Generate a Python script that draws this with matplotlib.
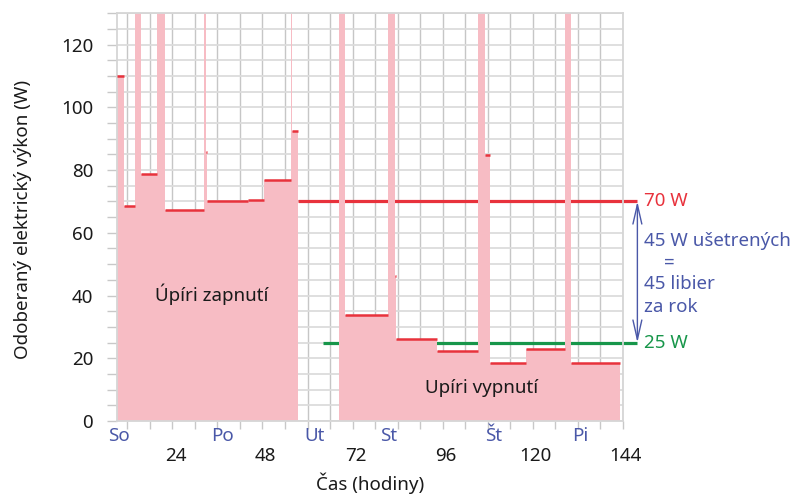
import numpy as np
import matplotlib
matplotlib.use('Agg')
import matplotlib.pyplot as plt
from matplotlib.transforms import ScaledTranslation, blended_transform_factory

plt.rcParams['font.family'] = ['Noto Sans', 'DejaVu Sans']

# step boundaries (hours) and measured power (W); 135 = spike running off the chart
edges = [9.16, 11.1, 14.0, 15.6, 19.9, 22.0, 32.5, 32.9, 33.1, 44.2, 48.3, 55.5, 55.8, 57.5,
         68.4, 69.9, 81.5, 83.3, 83.7, 94.5, 105.3, 107.3, 108.6, 118.1, 128.5, 130.3, 143.3]
power = [110, 68.6, 135, 78.8, 135, 67.3, 135, 85.8, 70.2, 70.5, 76.7, 135, 92.4, 0,
         135, 33.8, 135, 46.2, 26.3, 22.4, 135, 84.7, 18.5, 23.1, 135, 18.6]

# reference levels
level_on = 70
level_off = 25

hour_ticks = [24, 48, 72, 96, 120, 144]
day_names = ['So', 'Po', 'Ut', 'St', 'Št', 'Pi']
day_pos = [9.85, 37.3, 62.0, 81.7, 109.5, 132.8]

PINK = '#f7bcc4'
RED = '#e8323c'
GREEN = '#17964a'
BLUE = '#4a58a8'
GRIDV = '#c6c6c6'
GRIDH = '#dcdcdc'

fig = plt.figure(figsize=(8.05, 4.94), dpi=100)
ax = fig.add_axes([0.145, 0.1478, 0.6286, 0.8253])

ax.set_xlim(9.16, 144)
ax.set_ylim(0, 130)

# reference lines (under the pink area)
ax.plot([57.5, 147.9], [level_on, level_on], color=RED, lw=2.3, zorder=1,
        clip_on=False, solid_capstyle='butt')
ax.plot([64.05, 147.9], [level_off, level_off], color=GREEN, lw=2.3, zorder=1,
        clip_on=False, solid_capstyle='butt')

# consumption
ax.stairs(power, edges, fill=True, color=PINK, zorder=2, lw=0)
for i in range(len(power)):
    if 0 < power[i] < 130:
        ax.hlines(power[i], edges[i], edges[i + 1], color=RED, lw=1.8, zorder=3)

# grid
ax.set_xticks(hour_ticks)
ax.set_xticks(np.arange(12, 145, 6), minor=True)
ax.set_yticks(range(0, 121, 20))
ax.set_yticks(np.arange(0, 131, 5), minor=True)
ax.grid(axis='x', which='both', color=GRIDV, lw=1.0, zorder=0)
ax.grid(axis='y', which='both', color=GRIDH, lw=1.3, zorder=0)
ax.set_axisbelow(True)
for s in ax.spines.values():
    s.set_color('#d6d6d6')
    s.set_linewidth(1.3)

ax.tick_params(axis='x', which='both', length=6, color='#c8c8c8', width=1)
ax.tick_params(axis='x', which='major', pad=13, labelsize=13.5, labelcolor='#1a1a1a')
ax.tick_params(axis='y', which='both', length=7, color='#c8c8c8', width=1)
ax.tick_params(axis='y', which='major', pad=10, labelsize=13.5, labelcolor='#1a1a1a')
shift = ScaledTranslation(3 / 100, 0, fig.dpi_scale_trans)
for lab in ax.get_xticklabels():
    lab.set_transform(lab.get_transform() + shift)

# day names
trans = blended_transform_factory(ax.transData, ax.transAxes)
for name, pos in zip(day_names, day_pos):
    ax.text(pos, -0.037, name, transform=trans, ha='center', va='center',
            fontsize=13.5, color=BLUE)

# labels
fig.text(0.4593, 0.022, 'Čas (hodiny)', ha='center', va='center', fontsize=13.5, color='#1a1a1a')
fig.text(0.028, 0.555, 'Odoberaný elektrický výkon (W)', rotation=90, ha='center', va='center',
         fontsize=13.5, color='#1a1a1a')

ax.text(34.5, 40.5, 'Úpíri zapnutí', ha='center', va='center', fontsize=13.5, color='#1a1a1a', zorder=4)
ax.text(106.3, 10.5, 'Upíri vypnutí', ha='center', va='center', fontsize=13.5, color='#1a1a1a', zorder=4)

# annotation on the right
ax.text(149.7, level_on, '70 W', ha='left', va='center', fontsize=13.5, color=RED, clip_on=False)
ax.text(149.7, level_off, '25 W', ha='left', va='center', fontsize=13.5, color=GREEN, clip_on=False)
ax.annotate('', xy=(147.9, level_on), xytext=(147.9, level_off),
            arrowprops=dict(arrowstyle='<->,head_length=0.7,head_width=0.16', color=BLUE,
                            lw=1.0, shrinkA=0, shrinkB=0, mutation_scale=20),
            annotation_clip=False)
ax.text(149.7, 57.5, '45 W ušetrených', ha='left', va='center', fontsize=13.5, color=BLUE, clip_on=False)
ax.text(156.3, 50.6, '=', ha='center', va='center', fontsize=13.5, color=BLUE, clip_on=False)
ax.text(149.7, 43.7, '45 libier', ha='left', va='center', fontsize=13.5, color=BLUE, clip_on=False)
ax.text(149.7, 36.4, 'za rok', ha='left', va='center', fontsize=13.5, color=BLUE, clip_on=False)

fig.savefig('out.png', dpi=100)
